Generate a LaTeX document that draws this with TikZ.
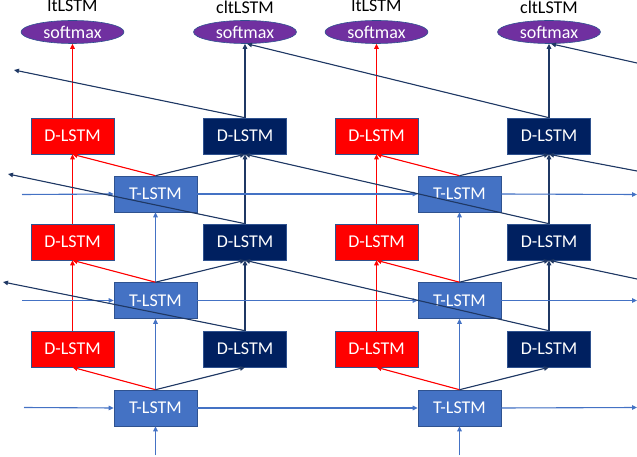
\documentclass[tikz,border=0pt]{standalone}
\usepackage{fontspec}
\setmainfont{Carlito}
\usetikzlibrary{arrows.meta,shapes.geometric}
\definecolor{rd}{HTML}{FF0000}
\definecolor{nv}{HTML}{002060}
\definecolor{nvl}{HTML}{1F3864}
\definecolor{tb}{HTML}{4472C4}
\definecolor{tbd}{HTML}{2F528F}
\definecolor{pu}{HTML}{7030A0}
\begin{document}
\begin{tikzpicture}[x=1pt,y=-1pt,
  txt/.style={font=\fontsize{18}{20}\selectfont},
  box/.style={txt, minimum width=83pt, minimum height=36pt, inner sep=0pt, text=white, line width=0.6pt, draw=tbd},
  dred/.style={box, fill=rd},
  dnav/.style={box, fill=nv},
  tl/.style={box, fill=tb},
  smx/.style={txt, ellipse, minimum width=103pt, minimum height=23pt, inner sep=0pt, fill=pu, draw=tbd, line width=0.6pt, text=white},
  lab/.style={txt, anchor=base, text=black},
  ar/.style={-{Triangle[length=5pt,width=4.5pt]}, line width=1.1pt},
  rl/.style={ar, draw=rd, fill=rd},
  nl/.style={ar, draw=nvl, fill=nvl},
  bl/.style={ar, draw=tb, fill=tb}]
\useasboundingbox (0,0) rectangle (637,457);
\foreach \b/\o in {a/0,b/304}{
  \node[smx] (sma\b) at (72.5+\o,32) {softmax};
  \node[smx] (smb\b) at (245+\o,32) {softmax};
  \node[lab] (la\b) at (72.5+\o,12) {ltLSTM};
  \node[lab] (lb\b) at (245+\o,14) {cltLSTM};
  \node[dred] (dr1\b) at (72.5+\o,136) {D-LSTM};
  \node[dnav] (dn1\b) at (245+\o,136) {D-LSTM};
  \node[tl] (t1\b) at (155.5+\o,194) {T-LSTM};
  \node[dred] (dr2\b) at (72.5+\o,242) {D-LSTM};
  \node[dnav] (dn2\b) at (245+\o,242) {D-LSTM};
  \node[tl] (t2\b) at (155.5+\o,300.5) {T-LSTM};
  \node[dred] (dr3\b) at (72.5+\o,349) {D-LSTM};
  \node[dnav] (dn3\b) at (245+\o,349) {D-LSTM};
  \node[tl] (t3\b) at (155.5+\o,408) {T-LSTM};
  \coordinate (in\b) at (155.5+\o,455);
}
% free ends
\coordinate (l1) at (22,194.5);
\coordinate (l2) at (22,300.5);
\coordinate (l3) at (24,407.5);
\coordinate (r1) at (637,194.5);
\coordinate (r2) at (637,300.5);
\coordinate (r3) at (637,407.5);
\coordinate (e1) at (14,70);
\coordinate (e2) at (8,174);
\coordinate (e3) at (3,282);
\coordinate (f0) at (637,63);
\coordinate (f1) at (637,171);
\coordinate (f2) at (637,279);
\foreach \b in {a,b}{
  % vertical red
  \draw[rl] (dr3\b.north) -- (dr2\b.south);
  \draw[rl] (dr2\b.north) -- (dr1\b.south);
  \draw[rl] (dr1\b.north) -- (sma\b.south);
  % vertical navy
  \draw[nl] (dn3\b.north) -- (dn2\b.south);
  \draw[nl] (dn2\b.north) -- (dn1\b.south);
  \draw[nl] (dn1\b.north) -- (smb\b.south);
  % vertical blue
  \draw[bl] (in\b) -- (t3\b.south);
  \draw[bl] (t3\b.north) -- (t2\b.south);
  \draw[bl] (t2\b.north) -- (t1\b.south);
  % T to D
  \foreach \k in {1,2,3}{
    \draw[rl] (t\k\b.north) -- (dr\k\b.south);
    \draw[nl] (t\k\b.north) -- (dn\k\b.south);
  }
}
% horizontal
\foreach \k in {1,2,3}{
  \draw[bl] (l\k) -- (t\k a.west);
  \draw[bl] (t\k a.east) -- (t\k b.west);
  \draw[bl] (t\k b.east) -- (r\k);
}
% diagonals
\draw[nl] (dn1a.north) -- (e1);
\draw[nl] (dn2a.north) -- (e2);
\draw[nl] (dn3a.north) -- (e3);
\draw[nl] (dn1b.north) -- ([xshift=2pt]smba.south);
\draw[nl] (dn2b.north) -- (dn1a.south);
\draw[nl] (dn3b.north) -- (dn2a.south);
\draw[nl] (f0) -- ([xshift=2pt]smbb.south);
\draw[nl] (f1) -- (dn1b.south);
\draw[nl] (f2) -- (dn2b.south);
\end{tikzpicture}
\end{document}
